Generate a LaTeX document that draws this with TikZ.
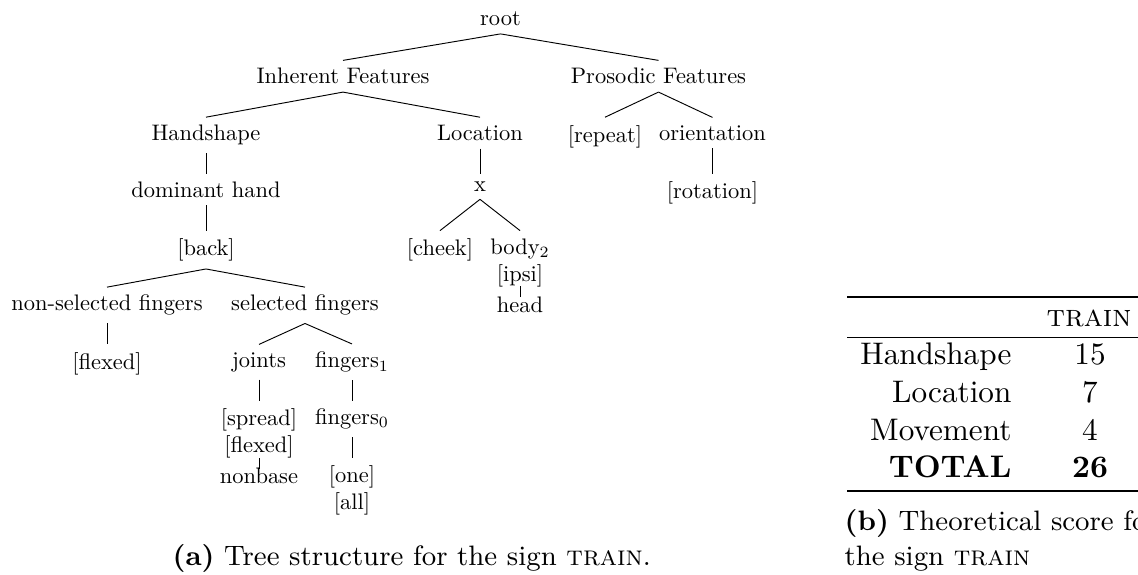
\documentclass[tikz,border=0pt]{standalone}
\tikzset{
  tnode/.style={scale=0.72, anchor=base},
  tedge/.style={line width=0.3pt},
  shortedge/.style={line width=0.3pt, shorten <=-0.8pt, shorten >=-0.8pt},
  cell/.style={anchor=base, inner sep=0pt},
  lcell/.style={anchor=base east, inner sep=0pt},
  capt/.style={anchor=base west, inner sep=0pt, font=\small},
}
\begin{document}
\begin{tikzpicture}[x=0.3205pt,y=0.3205pt,yscale=-1,xscale=1]
        \useasboundingbox (0,0) rectangle (1138,574);
        \clip (0,0) rectangle (1138,574);

        %Tree nodes
        \node[tnode] (root) at (500.5,25.7) {root};
        \node[tnode] (inh) at (343,83.9) {Inherent Features};
        \node[tnode] (pros) at (658.5,83.9) {Prosodic Features};
        \node[tnode] (hand) at (206,140.7) {Handshape};
        \node[tnode] (loc) at (480,140.5) {Location};
        \node[tnode] (rep) at (605,142) {[repeat]};
        \node[tnode] (orient) at (712.5,140.1) {orientation};
        \node[tnode] (dom) at (206,197.3) {dominant hand};
        \node[tnode] (x) at (480,191.4) {x};
        \node[tnode] (rot) at (712.5,198.6) {[rotation]};
        \node[tnode] (back) at (206,255.4) {[back]};
        \node[tnode] (cheek) at (440,255.4) {[cheek]};
        \node[tnode] (body) at (520,254.1) {body$_2$};
        \node[tnode] (ipsi) at (520,281.1) {[ipsi]};
        \node[tnode] (head) at (520,312.1) {head};
        \node[tnode] (nonsel) at (107,310.9) {non-selected fingers};
        \node[tnode] (sel) at (305,310.9) {selected fingers};
        \node[tnode] (flexa) at (107,369) {[flexed]};
        \node[tnode] (joints) at (259,367.1) {joints};
        \node[tnode] (fingb) at (352,367.7) {fingers$_1$};
        \node[tnode] (spread) at (259,425.8) {[spread]};
        \node[tnode] (flexb) at (259,452.8) {[flexed]};
        \node[tnode] (nonbase) at (259,483.8) {nonbase};
        \node[tnode] (finga) at (352,424.5) {fingers$_0$};
        \node[tnode] (one) at (352,482.6) {[one]};
        \node[tnode] (all) at (352,509.6) {[all]};

        %Straight Lines
        \draw[tedge] (root.south) -- (inh.north);
        \draw[tedge] (root.south) -- (pros.north);
        \draw[tedge] (inh.south) -- (hand.north);
        \draw[tedge] (inh.south) -- (loc.north);
        \draw[tedge] (pros.south) -- (rep.north);
        \draw[tedge] (pros.south) -- (orient.north);
        \draw[tedge] (hand.south) -- (dom.north);
        \draw[tedge] (loc.south) -- (x.north);
        \draw[tedge] (orient.south) -- (rot.north);
        \draw[tedge] (dom.south) -- (back.north);
        \draw[tedge] (x.south) -- (cheek.north);
        \draw[tedge] (x.south) -- (body.north);
        \draw[tedge] (back.south) -- (nonsel.north);
        \draw[tedge] (back.south) -- (sel.north);
        \draw[tedge] (nonsel.south) -- (flexa.north);
        \draw[tedge] (sel.south) -- (joints.north);
        \draw[tedge] (sel.south) -- (fingb.north);
        \draw[tedge] (joints.south) -- (spread.north);
        \draw[tedge] (fingb.south) -- (finga.north);
        \draw[tedge] (finga.south) -- (one.north);
        \draw[shortedge] (flexb.south) -- (nonbase.north);
        \draw[shortedge] (ipsi.south) -- (head.north);

        %Caption a
        \node[capt] (capa) at (172,565) {\textbf{(a)} Tree structure for the sign \textsc{train}.};

        %Table
        \draw[line width=0.8pt] (847,297) -- (1150,297);
        \draw[line width=0.5pt] (847,337.5) -- (1150,337.5);
        \draw[line width=0.8pt] (847,491) -- (1150,491);
        \node[cell] (hdtrain) at (1089,326.5) {\textsc{train}};
        \node[lcell] (rhand) at (1012,364.5) {Handshape};
        \node[lcell] (rloc) at (1012,402) {Location};
        \node[lcell] (rmov) at (1012,440) {Movement};
        \node[lcell] (rtot) at (1012,477.5) {\textbf{TOTAL}};
        \node[cell] (vhand) at (1090,364.5) {15};
        \node[cell] (vloc) at (1090,402) {7};
        \node[cell] (vmov) at (1090,440) {4};
        \node[cell] (vtot) at (1090,477.5) {\textbf{26}};

        %Caption b
        \node[capt] (capb) at (844,530.5) {\textbf{(b)} Theoretical score for};
        \node[capt] (capbb) at (844,565) {the sign \textsc{train}};

\end{tikzpicture}
\end{document}
